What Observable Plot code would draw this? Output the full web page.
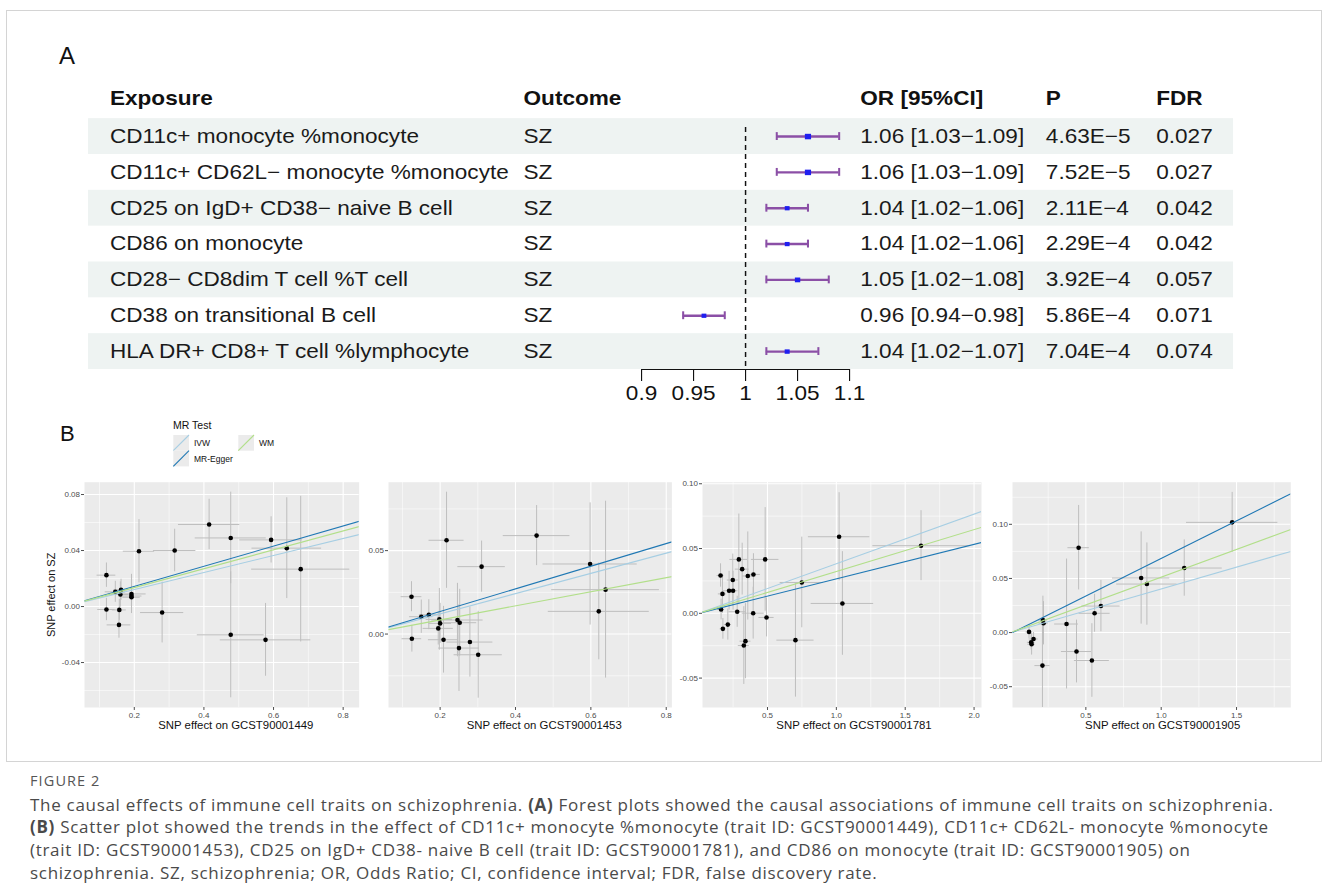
<!DOCTYPE html>
<html>
<head>
<meta charset="utf-8">
<script src="https://cdn.jsdelivr.net/npm/d3@7"></script>
<script src="https://cdn.jsdelivr.net/npm/@observablehq/plot@0.6"></script>
<style>
  html, body { margin: 0; padding: 0; background: #fff; }
  #root { position: relative; width: 1328px; height: 888px; overflow: hidden; font-family: "Liberation Sans", Arial, sans-serif; }
  #border { position: absolute; left: 6px; top: 10px; width: 1316px; height: 752px; border: 1px solid #d4d4d4; box-sizing: border-box; }
  .plabel { position: absolute; font-family: "Liberation Sans", Arial, sans-serif; color: #111; line-height: 1; }
  #caption { position: absolute; left: 30px; top: 770px; font-family: "Open Sans", "Noto Sans", sans-serif; color: #4a4a4a; font-size: 17px; letter-spacing: 0.7px; line-height: 22.7px; white-space: nowrap; }
  #caption .fig { font-size: 14.5px; letter-spacing: 1.1px; color: #555; margin-bottom: 1px; }
  svg { overflow: visible; }
</style>
</head>
<body>
<div id="root">
  <div id="border"></div>
  <div class="plabel" style="left:59px;top:44px;font-size:24px;">A</div>
  <div class="plabel" style="left:60px;top:423px;font-size:22px;">B</div>
  <div id="caption">
    <div class="fig">FIGURE 2</div>
    <div>The causal effects of immune cell traits on schizophrenia. <b>(A)</b> Forest plots showed the causal associations of immune cell traits on schizophrenia.</div>
    <div><b>(B)</b> Scatter plot showed the trends in the effect of CD11c+ monocyte %monocyte (trait ID: GCST90001449), CD11c+ CD62L- monocyte %monocyte</div>
    <div>(trait ID: GCST90001453), CD25 on IgD+ CD38- naive B cell (trait ID: GCST90001781), and CD86 on monocyte (trait ID: GCST90001905) on</div>
    <div>schizophrenia. SZ, schizophrenia; OR, Odds Ratio; CI, confidence interval; FDR, false discovery rate.</div>
  </div>
</div>
<script>
// ---------------- DATA: Part A (forest plot) ----------------
const tableHeaders = ["Exposure", "Outcome", "OR [95%CI]", "P", "FDR"];
const exposures = [
  "CD11c+ monocyte %monocyte",
  "CD11c+ CD62L\u2212 monocyte %monocyte",
  "CD25 on IgD+ CD38\u2212 naive B cell",
  "CD86 on monocyte",
  "CD28\u2212 CD8dim T cell %T cell",
  "CD38 on transitional B cell",
  "HLA DR+ CD8+ T cell %lymphocyte"
];
const outcomes = ["SZ", "SZ", "SZ", "SZ", "SZ", "SZ", "SZ"];
const orValues = [1.06, 1.06, 1.04, 1.04, 1.05, 0.96, 1.04];
const ciLow    = [1.03, 1.03, 1.02, 1.02, 1.02, 0.94, 1.02];
const ciHigh   = [1.09, 1.09, 1.06, 1.06, 1.08, 0.98, 1.07];
const pValues  = ["4.63E\u22125", "7.52E\u22125", "2.11E\u22124", "2.29E\u22124", "3.92E\u22124", "5.86E\u22124", "7.04E\u22124"];
const fdrValues = ["0.027", "0.027", "0.042", "0.042", "0.057", "0.071", "0.074"];
const forestTicks = [0.9, 0.95, 1, 1.05, 1.1];

// ---------------- DATA: Part B (MR scatter plots) ----------------
// each SNP: [exposure effect, outcome effect, exposure 95% half-width, outcome 95% half-width]
const mrMethods = ["IVW", "MR-Egger", "WM"];
const gcst90001449 = [
  [0.415, 0.0586, 0.088, 0.018], [0.477, 0.049, 0.102, 0.0327], [0.593, 0.0476, 0.09, 0.0165],
  [0.638, 0.0417, 0.10, 0.036], [0.678, 0.0267, 0.141, 0.052], [0.316, 0.040, 0.061, 0.0152],
  [0.2135, 0.0395, 0.045, 0.0226], [0.12, 0.0224, 0.027, 0.0087], [0.1455, 0.0105, 0.029, 0.0075],
  [0.16, 0.0086, 0.025, 0.009], [0.162, 0.012, 0.02, 0.0075], [0.192, 0.009, 0.042, 0.014],
  [0.192, 0.0075, 0.03, 0.008], [0.192, 0.0066, 0.025, 0.007], [0.12, -0.0021, 0.025, 0.008],
  [0.157, -0.0024, 0.02, 0.0075], [0.156, -0.0131, 0.034, 0.0095], [0.28, -0.0043, 0.062, 0.0217],
  [0.477, -0.0202, 0.096, 0.045], [0.577, -0.0238, 0.13, 0.026]
];
const gcst90001453 = [
  [0.456, 0.059, 0.0885, 0.018], [0.217, 0.0562, 0.0465, 0.0288], [0.31, 0.0404, 0.063, 0.0153],
  [0.598, 0.042, 0.125, 0.0366], [0.639, 0.0266, 0.143, 0.053], [0.621, 0.0136, 0.134, 0.029],
  [0.124, 0.0224, 0.0275, 0.009], [0.15, 0.0104, 0.031, 0.01], [0.17, 0.0116, 0.025, 0.009],
  [0.198, 0.0088, 0.035, 0.0185], [0.2, 0.0064, 0.03, 0.012], [0.195, 0.0034, 0.04, 0.01],
  [0.246, 0.0084, 0.068, 0.022], [0.252, 0.0068, 0.045, 0.02], [0.125, -0.0028, 0.026, 0.008],
  [0.209, -0.0034, 0.04, 0.02], [0.279, -0.0048, 0.061, 0.021], [0.25, -0.0084, 0.054, 0.026],
  [0.301, -0.0124, 0.064, 0.026]
];
const gcst90001781 = [
  [1.02, 0.0591, 0.223, 0.034], [1.615, 0.0522, 0.35, 0.027], [0.749, 0.0238, 0.157, 0.035],
  [1.044, 0.0076, 0.227, 0.04], [0.292, 0.0416, 0.065, 0.035], [0.483, 0.0416, 0.10, 0.04],
  [0.316, 0.0341, 0.05, 0.02], [0.398, 0.030, 0.05, 0.016], [0.357, 0.0288, 0.04, 0.034],
  [0.248, 0.0257, 0.04, 0.02], [0.159, 0.0292, 0.025, 0.009], [0.221, 0.0174, 0.04, 0.015],
  [0.25, 0.0174, 0.035, 0.015], [0.173, 0.015, 0.03, 0.015], [0.163, 0.0029, 0.025, 0.008],
  [0.28, 0.0012, 0.06, 0.012], [0.396, 0.0001, 0.08, 0.02], [0.493, -0.0032, 0.055, 0.015],
  [0.176, -0.012, 0.02, 0.008], [0.212, -0.0087, 0.025, 0.012], [0.34, -0.0215, 0.04, 0.029],
  [0.328, -0.0249, 0.04, 0.03], [0.703, -0.0207, 0.135, 0.044]
];
const gcst90001905 = [
  [1.471, 0.1018, 0.303, 0.0277], [0.452, 0.0784, 0.071, 0.039], [0.867, 0.0504, 0.19, 0.0426],
  [0.905, 0.0448, 0.20, 0.038], [1.153, 0.0596, 0.252, 0.026], [0.60, 0.0245, 0.127, 0.0237],
  [0.558, 0.0178, 0.103, 0.0175], [0.372, 0.0079, 0.079, 0.06], [0.215, 0.0116, 0.03, 0.022],
  [0.219, 0.0086, 0.03, 0.02], [0.123, 0.0006, 0.02, 0.006], [0.153, -0.0059, 0.03, 0.006],
  [0.137, -0.009, 0.025, 0.007], [0.14, -0.0108, 0.025, 0.01], [0.212, -0.0305, 0.05, 0.0425],
  [0.438, -0.0175, 0.10, 0.029], [0.54, -0.0258, 0.116, 0.034]
];
// slopes / intercepts in order IVW, MR-Egger, WM
const slopes1449 = [0.0608, 0.0719, 0.0675], intercepts1449 = [0, 0, 0];
const slopes1453 = [0.0606, 0.0678, 0.0422], intercepts1453 = [0, 0, 0];
const slopes1781 = [0.0383, 0.0266, 0.0323], intercepts1781 = [0, 0, 0];
const slopes1905 = [0.0403, 0.0694, 0.0512], intercepts1905 = [0, -0.0009, 0];
const traitIds = ["GCST90001449", "GCST90001453", "GCST90001781", "GCST90001905"];

// ---------------- STYLE ----------------
const root = document.getElementById("root");
const sansA = "Liberation Sans, Arial, Helvetica, sans-serif";
const methodColors = ["#a6cee3", "#1f78b4", "#b2df8a"];
const ciColor = "#8b4fa6";
const boxColor = "#1f1ff0";
const boxR = [3.1, 3.1, 2.4, 2.4, 2.7, 2.4, 2.5];

function placeDiv(node, left, top, extra) {
  const d = document.createElement("div");
  d.style.position = "absolute";
  d.style.left = left + "px";
  d.style.top = top + "px";
  if (extra) Object.assign(d.style, extra);
  d.appendChild(node);
  root.appendChild(d);
  return d;
}

// ---------------- Part A: forest plot ----------------
const SX = 1.13;           // horizontal stretch of the original table graphic
const FW = 1175, FH = 360;
const rows = exposures.map((e, i) => ({
  i, exposure: e, outcome: outcomes[i], or: orValues[i], lo: ciLow[i], hi: ciHigh[i],
  orText: `${orValues[i].toFixed(2)} [${ciLow[i].toFixed(2)}\u2212${ciHigh[i].toFixed(2)}]`,
  p: pValues[i], fdr: fdrValues[i]
}));
const colDx = [18.9, 384.9, 682.9, 847.1, 944.8];
const rowKeys = ["exposure", "outcome", "orText", "p", "fdr"];
const txtOpts = {frameAnchor: "left", textAnchor: "start", fontSize: 20, fill: "#1a1a1a"};

const forest = Plot.plot({
  width: FW, height: FH,
  marginLeft: 77.9, marginRight: 83.8, marginTop: 22.3, marginBottom: 51,
  x: {domain: [forestTicks[0], forestTicks[forestTicks.length - 1]], range: [641 / SX, 849 / SX], label: null},
  y: {domain: [-1.5, 6.5], range: [22.3, 309], axis: null},
  r: {type: "identity"},
  style: {fontFamily: sansA, background: "transparent", overflow: "visible"},
  marks: [
    Plot.rect(rows.filter(r => r.i % 2 === 0), {y1: r => r.i - 0.5, y2: r => r.i + 0.5, fill: "#eef3f2"}),
    Plot.ruleX([1], {y1: -0.25, y2: 6.5, stroke: "#111", strokeWidth: 1.3, strokeDasharray: "5,4"}),
    Plot.ruleY([6.5], {x1: forestTicks[0], x2: forestTicks[forestTicks.length - 1], stroke: "#111", strokeWidth: 1}),
    Plot.axisX({ticks: forestTicks, anchor: "bottom", tickSize: 12, tickPadding: 4, fontSize: 20,
      tickFormat: d => String(d), color: "#111", label: null}),
    Plot.ruleY(rows, {y: "i", x1: "lo", x2: "hi", stroke: ciColor, strokeWidth: 2.4}),
    Plot.ruleX(rows, {x: "lo", y1: r => r.i - 0.11, y2: r => r.i + 0.11, stroke: ciColor, strokeWidth: 1.8}),
    Plot.ruleX(rows, {x: "hi", y1: r => r.i - 0.11, y2: r => r.i + 0.11, stroke: ciColor, strokeWidth: 1.8}),
    Plot.dot(rows, {x: "or", y: "i", symbol: "square", r: r => boxR[r.i], fill: boxColor, stroke: null}),
    ...tableHeaders.map((h, k) => Plot.text([h], {...txtOpts, y: -1, text: d => d, dx: colDx[k], dy: -2, fontWeight: "bold", fill: "#111"})),
    ...rowKeys.map((key, k) => Plot.text(rows, {...txtOpts, y: "i", text: key, dx: colDx[k]}))
  ]
});
placeDiv(forest, 0, 60, {transform: `scaleX(${SX})`, transformOrigin: "0 0", width: FW + "px"});

// ---------------- Part B: MR scatter plots ----------------
const fmt1 = d => d.toFixed(1);
const fmt2 = d => d.toFixed(2);
function scatter(cfg) {
  const {data, slopes, intercepts, xDomain, yDomain, xTicks, xMinor, yTicks, yMinor, title, L, R, yTitle, titleDx} = cfg;
  const mL = yTitle ? 46 : 30, mR = 3, H = 270, mT = 11.7, mB = 33;
  const W = (R - L) + mL + mR;
  const grey = "#bebebe";
  const marks = [
    Plot.frame({fill: "#ebebeb", stroke: "none"}),
    Plot.gridX({ticks: xMinor, stroke: "white", strokeOpacity: 1, strokeWidth: 0.55}),
    Plot.gridY({ticks: yMinor, stroke: "white", strokeOpacity: 1, strokeWidth: 0.55}),
    Plot.gridX({ticks: xTicks, stroke: "white", strokeOpacity: 1, strokeWidth: 1.1}),
    Plot.gridY({ticks: yTicks, stroke: "white", strokeOpacity: 1, strokeWidth: 1.1}),
    Plot.ruleY(data, {y: d => d[1], x1: d => d[0] - d[2], x2: d => d[0] + d[2], stroke: grey, strokeWidth: 1, clip: true}),
    Plot.ruleX(data, {x: d => d[0], y1: d => d[1] - d[3], y2: d => d[1] + d[3], stroke: grey, strokeWidth: 1, clip: true}),
    Plot.dot(data, {x: d => d[0], y: d => d[1], r: 2.3, fill: "black", stroke: null}),
    ...mrMethods.map((m, k) => Plot.link([k], {
      x1: () => xDomain[0], y1: () => intercepts[k] + slopes[k] * xDomain[0],
      x2: () => xDomain[1], y2: () => intercepts[k] + slopes[k] * xDomain[1],
      stroke: methodColors[k], strokeWidth: 1.1, clip: true
    })),
    Plot.axisX({ticks: xTicks, tickFormat: fmt1, tickSize: 3, tickPadding: 1.5, fontSize: 8, color: "#4d4d4d", label: null}),
    Plot.axisY({ticks: yTicks, tickFormat: fmt2, tickSize: 3, tickPadding: 1.5, fontSize: 8, color: "#4d4d4d", label: null}),
    Plot.text([title], {frameAnchor: "bottom", dy: 21.5, dx: titleDx, text: d => d, fontSize: 11.4, fill: "#111"})
  ];
  if (yTitle) marks.push(Plot.text([yTitle], {frameAnchor: "left", dx: -33, rotate: -90, textAnchor: "middle", text: d => d, fontSize: 11, fill: "#111"}));
  const svg = Plot.plot({
    width: W, height: H, marginLeft: mL, marginRight: mR, marginTop: mT, marginBottom: mB,
    x: {domain: xDomain, label: null},
    y: {domain: yDomain, label: null},
    style: {fontFamily: sansA, background: "transparent", overflow: "visible"},
    marks
  });
  placeDiv(svg, L - mL, 470, {width: W + "px"});
}

scatter({data: gcst90001449, slopes: slopes1449, intercepts: intercepts1449,
  xDomain: [0.057, 0.846], yDomain: [-0.0721, 0.0888],
  xTicks: [0.2, 0.4, 0.6, 0.8], xMinor: [0.1, 0.3, 0.5, 0.7],
  yTicks: [-0.04, 0, 0.04, 0.08], yMinor: [-0.06, -0.02, 0.02, 0.06],
  title: "SNP effect on " + traitIds[0], L: 84.3, R: 359, yTitle: "SNP effect on SZ", titleDx: 14});
scatter({data: gcst90001453, slopes: slopes1453, intercepts: intercepts1453,
  xDomain: [0.063, 0.815], yDomain: [-0.044, 0.091],
  xTicks: [0.2, 0.4, 0.6, 0.8], xMinor: [0.1, 0.3, 0.5, 0.7],
  yTicks: [0, 0.05], yMinor: [-0.025, 0.025, 0.075],
  title: "SNP effect on " + traitIds[1], L: 388.3, R: 671.7, titleDx: 14});
scatter({data: gcst90001781, slopes: slopes1781, intercepts: intercepts1781,
  xDomain: [0.028, 2.054], yDomain: [-0.0727, 0.1012],
  xTicks: [0.5, 1, 1.5, 2], xMinor: [0.25, 0.75, 1.25, 1.75],
  yTicks: [-0.05, 0, 0.05, 0.1], yMinor: [-0.025, 0.025, 0.075],
  title: "SNP effect on " + traitIds[2], L: 701.7, R: 980.7, titleDx: 12});
scatter({data: gcst90001905, slopes: slopes1905, intercepts: intercepts1905,
  xDomain: [0.0133, 1.86], yDomain: [-0.0692, 0.1389],
  xTicks: [0.5, 1, 1.5], xMinor: [0.25, 0.75, 1.25, 1.75],
  yTicks: [-0.05, 0, 0.05, 0.1], yMinor: [-0.025, 0.025, 0.075, 0.125],
  title: "SNP effect on " + traitIds[3], L: 1011.7, R: 1290, titleDx: 11});

// ---------------- Legend (MR Test) ----------------
(function legend() {
  const svg = d3.create("svg").attr("width", 120).attr("height", 52)
    .style("font-family", sansA).style("overflow", "visible");
  svg.append("text").attr("x", 0).attr("y", 9).attr("font-size", 10.5).attr("fill", "#111").text("MR Test");
  const keys = [
    {k: 0, x: 0.3, y: 15},
    {k: 1, x: 0.3, y: 30.7},
    {k: 2, x: 65.3, y: 15}
  ];
  const s = 15.7;
  for (const {k, x, y} of keys) {
    svg.append("rect").attr("x", x).attr("y", y).attr("width", s).attr("height", s).attr("fill", "#ebebeb");
    svg.append("line").attr("x1", x).attr("y1", y + s).attr("x2", x + s).attr("y2", y)
      .attr("stroke", methodColors[k]).attr("stroke-width", 1.1);
    svg.append("text").attr("x", x + s + 5).attr("y", y + s / 2).attr("dy", "0.35em")
      .attr("font-size", 8.5).attr("fill", "#111").text(mrMethods[k]);
  }
  placeDiv(svg.node(), 173, 420);
})();
</script>
</body>
</html>
